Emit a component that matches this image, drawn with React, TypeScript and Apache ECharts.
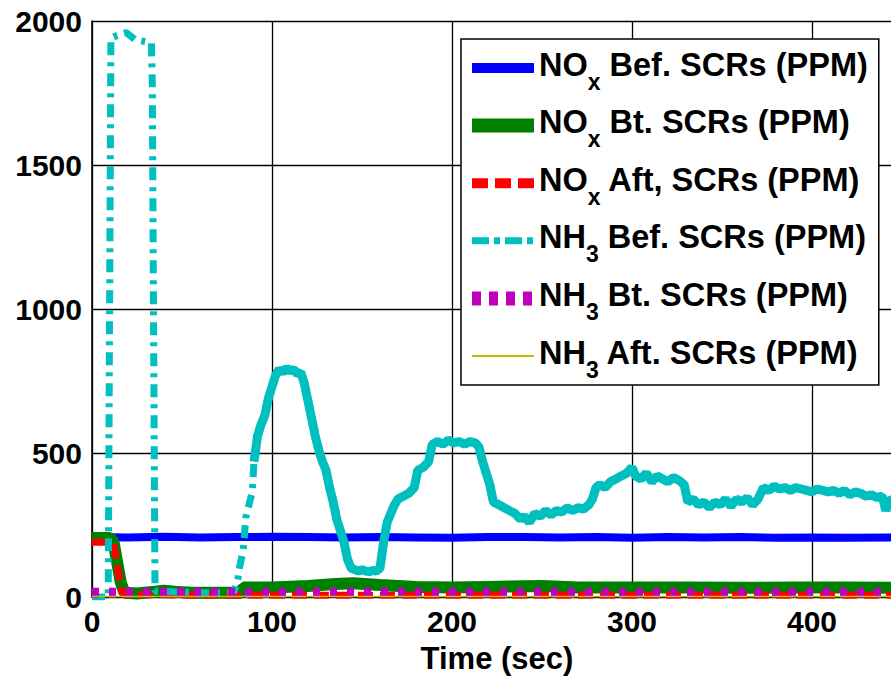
import React, { useEffect, useRef } from "react";
import * as echarts from "echarts";

// ---- data (time in sec, value in PPM) ----
const xTicks = [0, 100, 200, 300, 400];
const yTicks = [0, 500, 1000, 1500, 2000];

const seriesNames = [
  "NOx Bef. SCRs (PPM)",
  "NOx Bt. SCRs (PPM)",
  "NOx Aft, SCRs (PPM)",
  "NH3 Bef. SCRs (PPM)",
  "NH3 Bt. SCRs (PPM)",
  "NH3 Aft. SCRs (PPM)",
];

const noxBef: [number, number][] = [
  [0, 208], [20, 207], [40, 209], [60, 207], [80, 208], [100, 209], [120, 208],
  [140, 207], [160, 208], [180, 207], [200, 206], [220, 208], [240, 208], [260, 207],
  [280, 208], [300, 206], [320, 208], [340, 207], [360, 208], [380, 206], [400, 207],
  [420, 206], [450, 207],
];

const noxBt: [number, number][] = [
  [0, 205], [10, 205], [12, 190], [14, 120], [16, 50], [18, 15], [25, 12], [35, 18],
  [40, 22], [46, 18], [55, 15], [83, 15], [84, 33], [100, 33], [120, 38], [135, 45],
  [145, 48], [160, 42], [180, 35], [200, 33], [220, 35], [250, 38], [270, 33],
  [300, 33], [330, 33], [360, 32], [390, 33], [420, 33], [450, 32],
];

const noxAft: [number, number][] = [
  [0, 190], [10, 190], [12, 185], [13.5, 130], [15, 70], [16.5, 20], [18, 8],
  [100, 6], [200, 6], [300, 6], [450, 6],
];

// NH3 before SCRs: sparse (steep) part, drawn dash-dot
const nh3BefSteep: [number, number][] = [
  [0, 0], [9, 0], [10.5, 1940], [14, 1950], [19, 1960], [24, 1935], [30, 1928],
  [33, 1925], [33.5, 1780], [35, 20], [45, 18], [60, 15], [75, 15], [79, 18],
  [81, 60], [82, 104], [84, 163], [85.5, 278], [88, 340], [89, 361], [90, 470],
];

// NH3 before SCRs: dense (noisy) part, looks solid in the reference
const nh3BefDense: [number, number][] = [
  [90, 470], [92, 560], [94, 600], [96, 630], [98, 690], [100, 730], [102, 770],
  [104, 790], [106, 780], [108, 795], [110, 785], [112, 790], [114, 775], [116, 780],
  [118, 740], [120, 680], [122, 620], [124, 560], [126, 510], [128, 470], [130, 440],
  [132, 380], [134, 330], [136, 270], [138, 230], [140, 190], [142, 130], [144, 100],
  [146, 95], [148, 90], [150, 95], [152, 90], [154, 88], [156, 92], [158, 90],
  [160, 100], [162, 190], [164, 260], [166, 290], [168, 320], [170, 340], [173, 350],
  [176, 360], [179, 380], [181, 440], [184, 450], [187, 470], [189, 530], [192, 540],
  [195, 530], [198, 545], [201, 535], [204, 540], [207, 530], [210, 540], [213, 535],
  [215, 520], [217, 470], [219, 430], [221, 390], [223, 330], [226, 320], [229, 310],
  [232, 300], [235, 290], [238, 270], [240, 280], [243, 260], [246, 290], [249, 280],
  [252, 300], [255, 285], [258, 300], [261, 295], [264, 310], [267, 300], [270, 310],
  [273, 305], [276, 320], [278, 340], [280, 380], [282, 390], [285, 380], [288, 400],
  [291, 410], [294, 420], [297, 430], [300, 450], [302, 420], [305, 410], [308, 430],
  [311, 400], [314, 420], [317, 410], [320, 400], [323, 415], [326, 405], [329, 390],
  [331, 330], [334, 340], [337, 320], [340, 330], [343, 310], [346, 330], [349, 320],
  [352, 340], [355, 315], [358, 340], [361, 330], [364, 345], [367, 320], [370, 340],
  [373, 380], [376, 370], [379, 385], [382, 375], [385, 380], [388, 370], [391, 380],
  [394, 375], [397, 370], [400, 365], [403, 375], [406, 370], [409, 365], [412, 370],
  [415, 360], [418, 370], [421, 355], [424, 365], [427, 360], [430, 350], [433, 355],
  [436, 345], [439, 350], [441, 300], [443, 340], [446, 330], [450, 335],
];

const nh3Bt: [number, number][] = [
  [0, 15], [50, 15], [100, 14], [150, 16], [200, 15], [250, 15], [300, 15],
  [350, 15], [400, 15], [450, 15],
];

const nh3Aft: [number, number][] = [
  [0, 2], [100, 2], [200, 2], [300, 2], [400, 2], [450, 2],
];

const colors = ["#0000ff", "#008000", "#ff0000", "#00bfbf", "#bf00bf", "#bfbf00"];

const FONT = "'Liberation Sans', Arial, sans-serif";

const legendLabels: Record<string, string> = {
  "NOx Bef. SCRs (PPM)": "{m|NO}{s|x}{m| Bef. SCRs (PPM)}",
  "NOx Bt. SCRs (PPM)": "{m|NO}{s|x}{m| Bt. SCRs (PPM)}",
  "NOx Aft, SCRs (PPM)": "{m|NO}{s|x}{m| Aft, SCRs (PPM)}",
  "NH3 Bef. SCRs (PPM)": "{m|NH}{s|3}{m| Bef. SCRs (PPM)}",
  "NH3 Bt. SCRs (PPM)": "{m|NH}{s|3}{m| Bt. SCRs (PPM)}",
  "NH3 Aft. SCRs (PPM)": "{m|NH}{s|3}{m| Aft. SCRs (PPM)}",
};

const legendLineStyles: any[] = [
  { width: 10, type: "solid" },
  { width: 14, type: "solid" },
  { width: 10, type: [16, 7] },
  { width: 7, type: [17, 5, 6, 5] },
  { width: 14, type: [9, 8] },
  { width: 2, type: "solid" },
];

export default function App() {
  const ref = useRef<HTMLDivElement>(null);

  useEffect(() => {
    if (!ref.current) return;
    const chart = echarts.init(ref.current, undefined, { renderer: "svg" });

    const line = (name: string, data: [number, number][], color: string, width: number, type: any, z = 2) => ({
      name,
      type: "line",
      data,
      symbol: "none",
      z,
      lineStyle: { color, width, type, cap: "butt" },
      itemStyle: { color },
      emphasis: { disabled: true },
    });

    chart.setOption({
      animation: false,
      backgroundColor: "#ffffff",
      grid: { left: 92, top: 21, width: 810, height: 576, containLabel: false, outerBoundsMode: "none" },
      xAxis: {
        type: "value",
        min: xTicks[0],
        max: 450,
        interval: 100,
        name: "Time (sec)",
        nameLocation: "middle",
        nameGap: 46,
        nameTextStyle: { fontFamily: FONT, fontWeight: "bold", fontSize: 31, color: "#000" },
        axisLine: { show: true, onZero: false, lineStyle: { color: "#000", width: 1.5 } },
        axisTick: { show: false },
        axisLabel: {
          fontFamily: FONT, fontWeight: "bold", fontSize: 30, color: "#000", margin: 9,
          showMaxLabel: false,
          formatter: (v: number) => String(v),
        },
        splitLine: { show: true, lineStyle: { color: "#000", width: 1.3 } },
      },
      yAxis: {
        type: "value",
        min: yTicks[0],
        max: yTicks[yTicks.length - 1],
        interval: 500,
        axisLine: { show: true, lineStyle: { color: "#000", width: 1.5 } },
        axisTick: { show: false },
        axisLabel: {
          fontFamily: FONT, fontWeight: "bold", fontSize: 30, color: "#000", margin: 10,
          formatter: (v: number) => String(v),
        },
        splitLine: { show: true, lineStyle: { color: "#000", width: 1.3 } },
      },
      legend: {
        orient: "vertical",
        left: 461,
        top: 39,
        padding: [4, 11, 4, 4],
        itemGap: 7.6,
        itemWidth: 62,
        itemHeight: 14,
        backgroundColor: "#ffffff",
        borderColor: "#000",
        borderWidth: 1.5,
        borderRadius: 0,
        selectedMode: false,
        formatter: (name: string) => legendLabels[name] || name,
        textStyle: {
          color: "#000",
          rich: {
            m: { fontFamily: FONT, fontWeight: "bold", fontSize: 32.5, color: "#000", lineHeight: 40, padding: [0, 0, 7, 0] },
            s: { fontFamily: FONT, fontWeight: "bold", fontSize: 23, color: "#000", lineHeight: 22, padding: [27, 0, 0, 0] },
          },
        },
        data: seriesNames.map((n, i) => ({
          name: n,
          lineStyle: { ...legendLineStyles[i], color: colors[i], cap: "butt" },
          itemStyle: { color: "rgba(0,0,0,0)", borderWidth: 0, opacity: 0 },
        })),
      },
      series: [
        line(seriesNames[0], noxBef, colors[0], 8, "solid"),
        line(seriesNames[1], noxBt, colors[1], 12, "solid"),
        line(seriesNames[2], noxAft, colors[2], 7, [15, 7]),
        line(seriesNames[3], nh3BefSteep, colors[3], 7, [13, 7, 4, 7]),
        line("nh3-dense", nh3BefDense, colors[3], 9, "solid"),
        line(seriesNames[4], nh3Bt, colors[4], 10, [7, 10]),
        line(seriesNames[5], nh3Aft, colors[5], 1.5, "solid"),
      ],
    });

    return () => chart.dispose();
  }, []);

  return (
    <div
      ref={ref}
      style={{ position: "fixed", left: 0, top: 0, width: 891, height: 677, background: "#fff" }}
    />
  );
}
